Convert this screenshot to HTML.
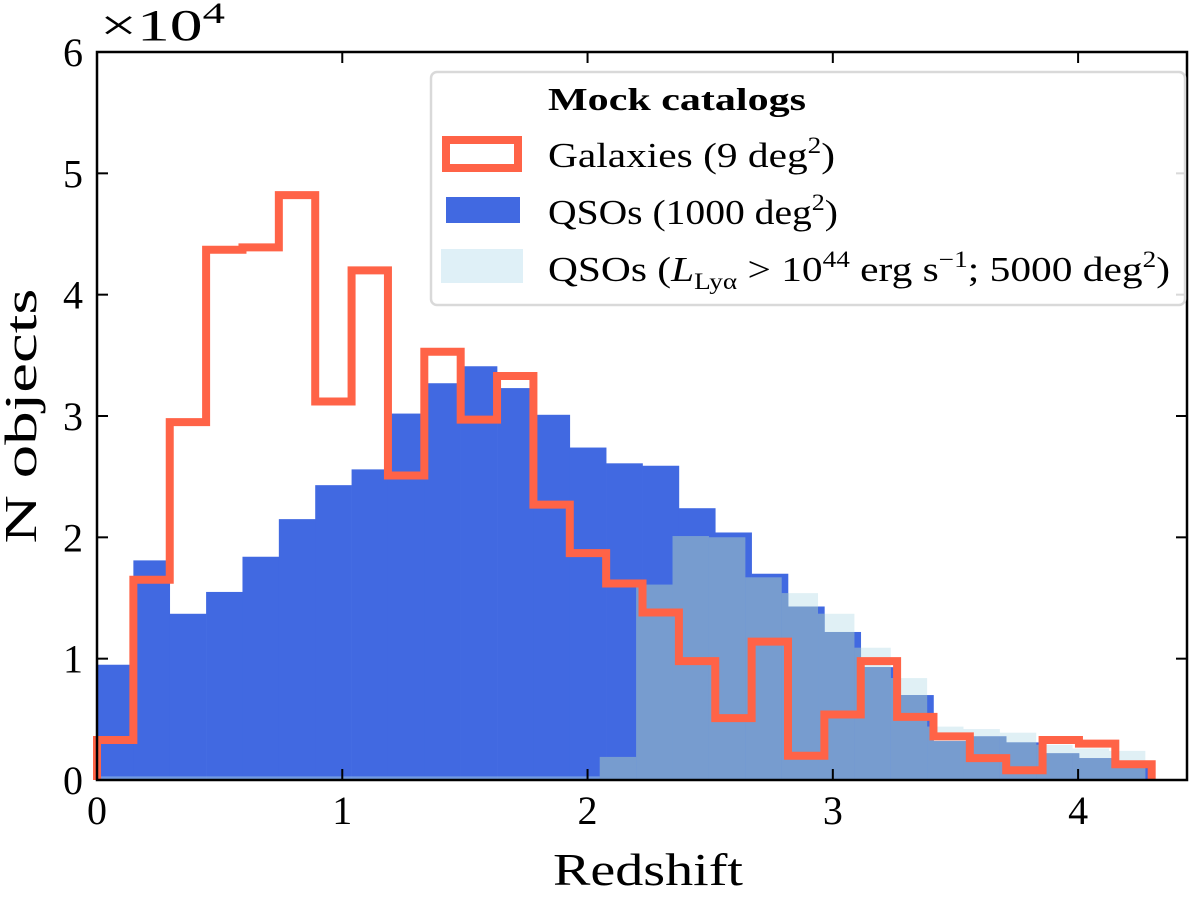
<!DOCTYPE html>
<html><head><meta charset="utf-8"><style>
body{margin:0;background:#fff;width:1200px;height:892px;overflow:hidden}
svg text{font-family:"Liberation Serif","DejaVu Serif",serif;fill:#000}
</style></head><body>
<svg id="chart" width="1200" height="892" xmlns="http://www.w3.org/2000/svg">
<defs><clipPath id="qsoClip"></clipPath></defs>
<g id="plot"></g>
</svg>
<script>
const binCount = 29;
const binMax = 4.3;
const qsoValues = [0.95,1.81,1.37,1.55,1.84,2.15,2.43,2.56,3.02,3.27,3.41,3.23,3.01,2.74,2.61,2.59,2.24,2.04,1.70,1.43,1.22,0.93,0.70,0.32,0.36,0.31,0.22,0.18,0.10];
const galaxyValues = [0.33,1.65,2.95,4.37,4.39,4.82,3.12,4.20,2.51,3.53,2.97,3.33,2.27,1.87,1.62,1.38,0.98,0.51,1.14,0.20,0.54,0.98,0.52,0.36,0.18,0.08,0.33,0.30,0.13];
const brightStart = 2.05;
const brightValues = [0.19,1.61,2.01,2.00,1.67,1.54,1.37,1.09,0.84,0.44,0.42,0.39,0.29,0.26,0.24];
const xTicks = [0,1,2,3,4];
const yTicks = [0,1,2,3,4,5,6];

const NS='http://www.w3.org/2000/svg';
const L=97,R=1187,T=52,B=780;
const xs=v=>L+(v/4.444)*(R-L);
const ys=v=>B-(v/6)*(B-T);
const bw=binMax/binCount;
const g=document.getElementById('plot');
const clip=document.getElementById('qsoClip');
function mk(tag,attrs,parent){const e=document.createElementNS(NS,tag);for(const k in attrs)e.setAttribute(k,attrs[k]);(parent||g).appendChild(e);return e;}

qsoValues.forEach((v,i)=>{
  const a={x:xs(i*bw),y:ys(v),width:xs((i+1)*bw)-xs(i*bw)+0.3,height:ys(0)-ys(v)};
  const r=mk('rect',Object.assign({fill:'#4169e1'},a));
  
  
  mk('rect',a,clip);
});
mk('rect',{x:xs(0),y:ys(0.03),width:xs(brightStart)-xs(0),height:ys(0)-ys(0.03),fill:'#add8e6','fill-opacity':0.45});
const pale=mk('g',{});
const overlap=mk('g',{'clip-path':'url(#qsoClip)'});


brightValues.forEach((v,i)=>{
  const x0=brightStart+i*bw;
  const a={x:xs(x0),y:ys(v),width:xs(x0+bw)-xs(x0),height:ys(0)-ys(v)};
  const r=mk('rect',Object.assign({fill:'#add8e6','fill-opacity':0.38},a),pale);
  
  
  mk('rect',Object.assign({fill:'#779ccf'},a),overlap);
});
let d='M'+xs(0)+' '+ys(0);
galaxyValues.forEach((v,i)=>{d+=' L'+xs(i*bw)+' '+ys(v)+' L'+xs((i+1)*bw)+' '+ys(v);});
d+=' L'+xs(binMax)+' '+ys(0);
const gp=mk('path',{d:d,fill:'none',stroke:'#ff6347','stroke-width':8,'stroke-linejoin':'miter'});



const fr=mk('rect',{x:L,y:T,width:R-L,height:B-T,fill:'none',stroke:'#000','stroke-width':2.5});


xTicks.forEach(t=>{
  mk('line',{x1:xs(t),x2:xs(t),y1:B,y2:B-11,stroke:'#000','stroke-width':2});
  mk('line',{x1:xs(t),x2:xs(t),y1:T,y2:T+11,stroke:'#000','stroke-width':2});
  const tx=mk('text',{x:xs(t),y:B+44,'font-size':40,'text-anchor':'middle'});
  tx.textContent=t;
  
  
});
yTicks.forEach(t=>{
  mk('line',{x1:L,x2:L+11,y1:ys(t),y2:ys(t),stroke:'#000','stroke-width':2});
  mk('line',{x1:R,x2:R-11,y1:ys(t),y2:ys(t),stroke:'#000','stroke-width':2});
  const tx=mk('text',{x:L-14,y:ys(t)+14,'font-size':40,'text-anchor':'end'});
  tx.textContent=t;
  
  
});
</script>
<svg style="position:absolute;left:0;top:0" width="1200" height="892" xmlns="http://www.w3.org/2000/svg">
<text x="100" y="40" font-size="44" textLength="125" lengthAdjust="spacingAndGlyphs">×10<tspan font-size="30" dy="-17">4</tspan></text>
<text x="648" y="885" font-size="46" text-anchor="middle" textLength="190" lengthAdjust="spacingAndGlyphs">Redshift</text>
<text transform="translate(36,416) rotate(-90)" font-size="46" text-anchor="middle" textLength="255" lengthAdjust="spacingAndGlyphs">N objects</text>
<g>
<rect x="431" y="72" width="754" height="233" rx="6" fill="#fff" fill-opacity="0.85" stroke="#d9d9d9" stroke-width="2.5"/>
<text x="548" y="110" font-size="32" font-weight="bold" textLength="258" lengthAdjust="spacingAndGlyphs">Mock catalogs</text>
<rect x="446" y="140" width="72" height="28" fill="#fff" stroke="#ff6347" stroke-width="8"/>
<text x="548" y="167" font-size="35" textLength="287" lengthAdjust="spacingAndGlyphs">Galaxies (9 deg<tspan font-size="23" dy="-14">2</tspan><tspan dy="14">)</tspan></text>
<rect x="446" y="197" width="74" height="26" fill="#4169e1"/>
<text x="548" y="224" font-size="35" textLength="290" lengthAdjust="spacingAndGlyphs">QSOs (1000 deg<tspan font-size="23" dy="-14">2</tspan><tspan dy="14">)</tspan></text>
<rect x="441" y="249" width="82" height="34" fill="#dff0f7"/>
<text x="548" y="281" font-size="35" textLength="622" lengthAdjust="spacingAndGlyphs">QSOs (<tspan font-style="italic">L</tspan><tspan font-size="23" dy="8">Lyα</tspan><tspan dy="-8"> &gt; 10</tspan><tspan font-size="23" dy="-14">44</tspan><tspan dy="14"> erg s</tspan><tspan font-size="23" dy="-14">−1</tspan><tspan dy="14">; 5000 deg</tspan><tspan font-size="23" dy="-14">2</tspan><tspan dy="14">)</tspan></text>
</g>
</svg>
</body></html>
